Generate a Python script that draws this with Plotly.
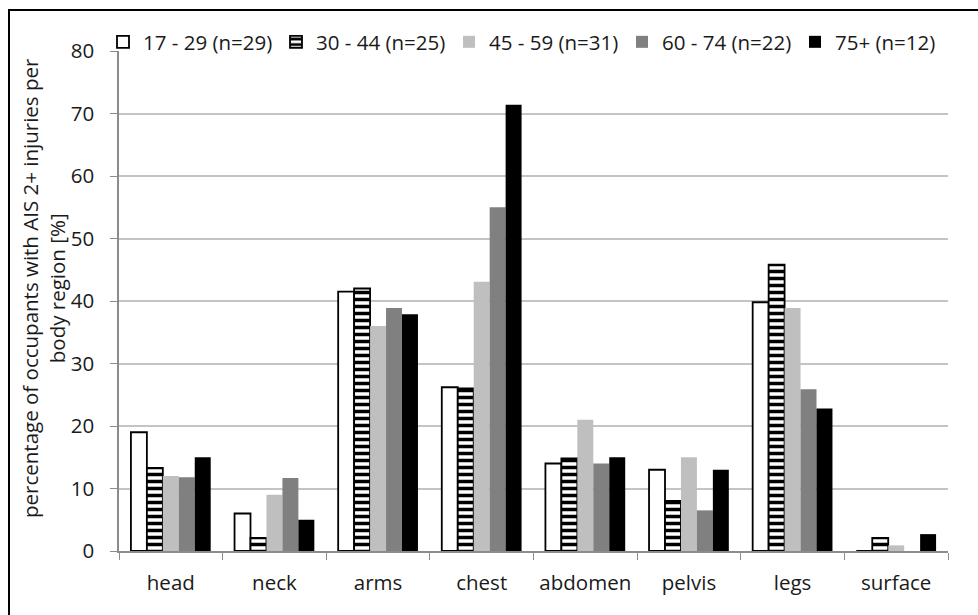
import plotly.graph_objects as go

regions = ["head", "neck", "arms", "chest", "abdomen", "pelvis", "legs", "surface"]

age_17_29 = [19.0, 6.0, 41.5, 26.2, 14.0, 13.0, 39.8, 0.0]
age_30_44 = [13.3, 2.1, 42.0, 26.0, 14.8, 8.0, 45.8, 2.1]
age_45_59 = [12.0, 9.0, 36.0, 43.1, 21.0, 15.0, 38.9, 0.9]
age_60_74 = [11.8, 11.7, 38.9, 55.0, 14.0, 6.5, 25.9, 0.0]
age_75p = [15.0, 5.0, 37.9, 71.4, 15.0, 13.0, 22.8, 2.7]

series_names = ["17 - 29 (n=29)", "30 - 44 (n=25)", "45 - 59 (n=31)",
                "60 - 74 (n=22)", "75+ (n=12)"]

FONT = "Open Sans"
TXT = "#1a1a1a"
FS = 20.5

# figure geometry (pixels)
W, H = 978, 615
ML, MR, MT, MB = 119, 30, 51, 64
PW, PH = W - ML - MR, H - MT - MB

fig = go.Figure()

fig.add_bar(x=regions, y=age_17_29, name=series_names[0],
            marker=dict(color="white", line=dict(color="black", width=1.8)))
fig.add_bar(x=regions, y=age_30_44, name=series_names[1],
            marker=dict(color="white", line=dict(color="black", width=1.8),
                        pattern=dict(shape="-", fgcolor="black", bgcolor="white",
                                     size=7, solidity=0.5, fillmode="replace")))
fig.add_bar(x=regions, y=age_45_59, name=series_names[2],
            marker=dict(color="#bfbfbf", line=dict(width=0)))
fig.add_bar(x=regions, y=age_60_74, name=series_names[3],
            marker=dict(color="#808080", line=dict(width=0)))
fig.add_bar(x=regions, y=age_75p, name=series_names[4],
            marker=dict(color="#000000", line=dict(width=0)))

fig.update_layout(
    width=W, height=H,
    margin=dict(l=ML, r=MR, t=MT, b=MB, autoexpand=False),
    paper_bgcolor="white", plot_bgcolor="white",
    barmode="group", bargap=0.23, bargroupgap=0,
    font=dict(family=FONT, size=FS, color=TXT),
    showlegend=True,
    legend=dict(orientation="h", x=(103 - ML) / PW, xanchor="left",
                y=(551 - 42) / PH, yanchor="middle",
                font=dict(family=FONT, size=FS, color=TXT),
                itemwidth=30, traceorder="normal", bgcolor="rgba(0,0,0,0)",
                entrywidthmode="pixels", entrywidth=128, tracegroupgap=0),
    xaxis=dict(type="category", tickson="boundaries", ticks="outside", ticklen=7,
               tickcolor="#8c8c8c", showline=True, linecolor="#8c8c8c", linewidth=1.5,
               showgrid=False, tickfont=dict(family=FONT, size=FS, color=TXT),
               ticklabelstandoff=13),
    yaxis=dict(range=[0, 80], dtick=10, ticks="outside", ticklen=7,
               tickcolor="#8c8c8c", showline=True, linecolor="#8c8c8c", linewidth=1.5,
               showgrid=True, gridcolor="#c4c4c4", gridwidth=1.5, zeroline=False,
               tickfont=dict(family=FONT, size=FS, color=TXT), ticklabelstandoff=12),
)

# y-axis title in two centred lines
fig.add_annotation(
    text="percentage of occupants with AIS 2+ injuries per<br>body region [%]",
    xref="paper", yref="paper", x=(43 - ML) / PW, y=(551 - 288) / PH,
    xanchor="center", yanchor="middle",
    textangle=-90, showarrow=False,
    font=dict(family=FONT, size=FS, color=TXT),
)

# outer frame of the figure
fig.add_shape(type="rect", xref="paper", yref="paper", layer="above",
              x0=(9 - ML) / PW, x1=(990 - ML) / PW,
              y0=(551 - 630) / PH, y1=(551 - 10) / PH,
              line=dict(color="black", width=2), fillcolor="rgba(0,0,0,0)")

fig.write_html("out.html")
